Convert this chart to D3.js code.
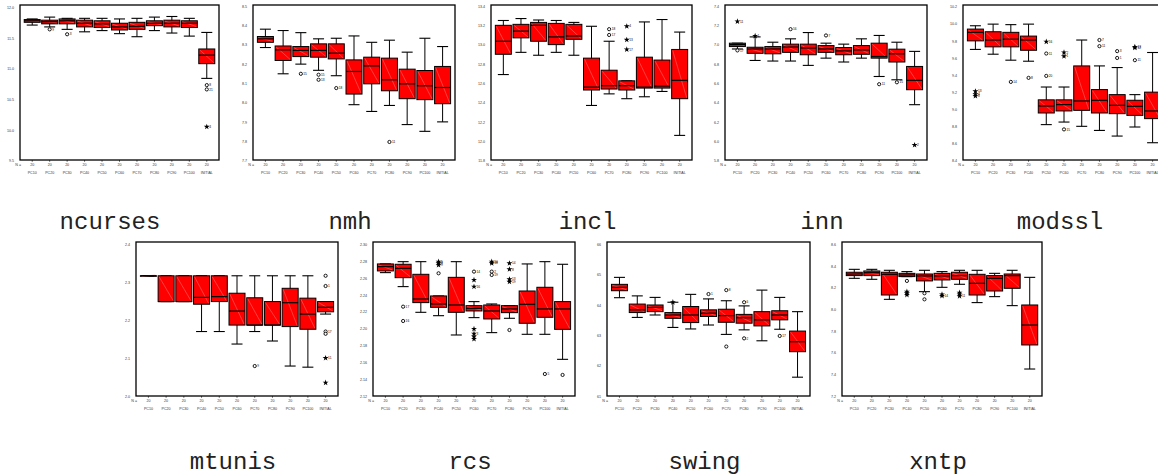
<!DOCTYPE html>
<html>
<head>
<meta charset="utf-8">
<script src="https://cdn.jsdelivr.net/npm/d3@7"></script>
<style>
  body { margin: 0; background: #fff; }
  svg { display: block; }
  .tick text { font-family: "Liberation Sans", Arial, sans-serif; fill: #333; }
</style>
</head>
<body>
<div id="chart"></div>
<script>
// categories and N labels
const categories = ["PC10","PC20","PC30","PC40","PC50","PC60","PC70","PC80","PC90","PC100","INITIAL"];
const nLabels = ["20","20","20","20","20","20","20","20","20","20","20"];

// box stats: [low whisker, q1, median, q3, high whisker]
const ncursesBoxes = [
  [11.71,11.755,11.78,11.80,11.81],[11.68,11.73,11.765,11.79,11.84],[11.64,11.73,11.78,11.81,11.82],
  [11.60,11.68,11.74,11.79,11.82],[11.62,11.67,11.73,11.78,11.82],[11.57,11.63,11.68,11.74,11.81],
  [11.52,11.64,11.69,11.755,11.82],[11.62,11.70,11.74,11.78,11.84],[11.58,11.68,11.74,11.79,11.85],
  [11.53,11.67,11.74,11.78,11.82],[10.84,11.08,11.22,11.32,11.59]];
const ncursesOutliers = [[1,11.64,"o","9"],[2,11.56,"o","3"],[10,10.73,"o","8"],[10,10.66,"o","21"],[10,10.05,"*","4"]];
const ncursesTicks = [9.5,10.0,10.5,11.0,11.5,12.0];

const nmhBoxes = [
  [8.285,8.312,8.33,8.342,8.38],[8.149,8.218,8.273,8.293,8.373],[8.199,8.238,8.27,8.29,8.362],
  [8.167,8.235,8.27,8.304,8.33],[8.139,8.226,8.256,8.304,8.333],[7.989,8.044,8.161,8.221,8.345],
  [7.954,8.097,8.19,8.235,8.312],[7.985,8.061,8.118,8.23,8.323],[7.886,8.02,8.097,8.173,8.261],
  [7.851,8.015,8.087,8.166,8.333],[7.9,7.994,8.078,8.187,8.29]];
const nmhOutliers = [[2,8.149,"o","15"],[3,8.144,"o","15"],[3,8.118,"o","13"],[4,8.075,"o","18"],[7,7.796,"o","11"]];
const nmhTicks = [7.7,7.8,7.9,8.0,8.1,8.2,8.3,8.4,8.5];

const inclBoxes = [
  [12.69,12.9,13.035,13.2,13.25],[12.92,13.07,13.14,13.21,13.27],[12.89,13.035,13.2,13.23,13.255],
  [12.92,13.0,13.08,13.22,13.25],[12.89,13.055,13.09,13.21,13.23],[12.37,12.53,12.56,12.86,13.19],
  [12.49,12.54,12.575,12.735,13.035],[12.44,12.53,12.575,12.625,12.625],[12.46,12.55,12.56,12.87,13.235],
  [12.515,12.55,12.57,12.84,13.26],[12.06,12.44,12.63,12.95,13.13]];
const inclOutliers = [[6,13.16,"o","18"],[6,13.10,"o","17"],[7,13.19,"*","4"],[7,13.05,"*","13"],[7,12.95,"*","17"]];
const inclTicks = [11.8,12.0,12.2,12.4,12.6,12.8,13.0,13.2,13.4];

const innBoxes = [
  [6.955,6.98,7.0,7.015,7.015],[6.836,6.91,6.955,6.973,7.08],[6.83,6.905,6.955,6.98,7.025],
  [6.83,6.92,6.975,7.005,7.06],[6.785,6.895,6.965,7.005,7.125],[6.86,6.92,6.955,6.99,7.015],
  [6.82,6.895,6.935,6.97,7.005],[6.86,6.9,6.945,6.99,7.06],[6.67,6.86,6.877,7.015,7.095],
  [6.636,6.82,6.905,6.953,7.025],[6.378,6.533,6.63,6.774,6.93]];
const innOutliers = [[0,7.24,"*","11"],[0,6.94,"o","17"],[1,7.09,"*","1"],[3,7.16,"o","16"],[5,7.095,"o","7"],
  [8,6.59,"o","11"],[9,6.61,"o","15"],[10,5.96,"*","2"]];
const innTicks = [5.8,6.0,6.2,6.4,6.6,6.8,7.0,7.2,7.4];

const modsslBoxes = [
  [9.7,9.8,9.9,9.938,9.977],[9.644,9.73,9.81,9.907,9.996],[9.574,9.73,9.82,9.9,9.99],
  [9.562,9.69,9.81,9.856,9.996],[8.82,8.956,9.038,9.11,9.26],[8.85,8.98,9.054,9.11,9.26],
  [8.8,8.987,9.097,9.507,9.81],[8.752,8.956,9.104,9.23,9.507],[8.686,8.948,9.046,9.171,9.488],
  [8.792,8.928,9.034,9.105,9.171],[8.608,8.89,8.98,9.2,9.664]];
const modsslOutliers = [[0,9.21,"*","13"],[0,9.175,"*","4"],[0,9.155,"*","8"],[2,9.32,"o","14"],[3,9.367,"o","8"],
  [4,9.79,"*","16"],[4,9.652,"o","11"],[4,9.39,"o","20"],[5,9.664,"*","2"],[5,9.62,"*","1"],[5,8.764,"o","15"],
  [7,9.81,"o","7"],[7,9.738,"o","11"],[8,9.68,"o","3"],[8,9.6,"o","1"],[9,9.73,"*","13"],[9,9.72,"*","12"],[9,9.574,"o","11"]];
const modsslTicks = [8.4,8.6,8.8,9.0,9.2,9.4,9.6,9.8,10.0,10.2];

const mtunisBoxes = [
  [2.317,2.317,2.317,2.317,2.317],[2.249,2.249,2.249,2.317,2.317],[2.249,2.249,2.249,2.317,2.317],
  [2.17,2.242,2.26,2.317,2.317],[2.17,2.249,2.262,2.317,2.317],[2.137,2.187,2.224,2.271,2.317],
  [2.17,2.187,2.187,2.259,2.317],[2.145,2.187,2.187,2.249,2.317],[2.079,2.183,2.246,2.284,2.317],
  [2.076,2.176,2.216,2.258,2.317],[2.216,2.222,2.234,2.249,2.249]];
const mtunisOutliers = [[6,2.079,"o","9"],[10,2.317,"o",""],[10,2.29,"o","1"],[10,2.17,"o","17"],[10,2.164,"o",""],
  [10,2.1,"*","11"],[10,2.035,"*",""]];
const mtunisTicks = [2.0,2.1,2.2,2.3,2.4];

const rcsBoxes = [
  [2.2664,2.2684,2.2735,2.2767,2.2767],[2.2498,2.2604,2.2715,2.2763,2.2794],[2.2193,2.2308,2.2351,2.2644,2.2794],
  [2.2153,2.2252,2.2292,2.2387,2.2387],[2.1924,2.2193,2.228,2.2608,2.2794],[2.213,2.2209,2.224,2.2272,2.232],
  [2.1952,2.2114,2.2209,2.228,2.2292],[2.2122,2.2189,2.2233,2.2272,2.2272],[2.1932,2.2063,2.2288,2.2446,2.2767],
  [2.1932,2.2134,2.2233,2.249,2.2794],[2.1635,2.1991,2.2233,2.232,2.2763]];
const rcsOutliers = [[1,2.226,"o","17"],[1,2.209,"o","16"],[3,2.2794,"*","5"],[3,2.2775,"*","8"],[3,2.2755,"*","9"],
  [3,2.2656,"o",""],[5,2.2676,"o","14"],[5,2.2577,"*",""],[5,2.2498,"*","16"],[5,2.1995,"*",""],[5,2.194,"*","3"],
  [5,2.1905,"*",""],[5,2.1877,"*",""],[6,2.2794,"*","10"],[6,2.2775,"*","18"],[6,2.2676,"o","2"],[6,2.2636,"o","19"],
  [7,2.2775,"*","14"],[7,2.2703,"*","8"],[7,2.2585,"*","13"],[7,2.2555,"*","19"],[7,2.1983,"o",""],
  [9,2.1461,"o","5"],[10,2.145,"o",""]];
const rcsTicks = [2.12,2.14,2.16,2.18,2.20,2.22,2.24,2.26,2.28,2.30];

const swingBoxes = [
  [64.24,64.47,64.58,64.68,64.91],[63.59,63.75,63.84,64.03,64.30],[63.67,63.78,63.92,64.0,64.25],
  [63.26,63.56,63.67,63.75,64.09],[63.21,63.42,63.67,63.95,64.35],[63.34,63.62,63.73,63.84,64.2],
  [63.03,63.43,63.65,63.86,64.14],[63.18,63.40,63.58,63.69,63.97],[62.82,63.31,63.51,63.78,64.49],
  [63.2,63.51,63.67,63.81,64.25],[61.62,62.46,62.79,63.14,63.78]];
const swingOutliers = [[3,64.09,"*",""],[5,64.36,"o","1"],[6,64.49,"o","8"],[6,62.63,"o",""],[7,64.09,"o","6"],
  [7,62.9,"o","2"],[9,62.98,"o","17"]];
const swingTicks = [61,62,63,64,65,66];

const xntpBoxes = [
  [8.286,8.311,8.326,8.342,8.369],[8.277,8.311,8.338,8.354,8.369],[8.092,8.132,8.323,8.342,8.36],
  [8.302,8.302,8.317,8.332,8.348],[8.163,8.262,8.308,8.326,8.36],[8.203,8.271,8.308,8.332,8.348],
  [8.231,8.277,8.311,8.342,8.36],[8.062,8.132,8.24,8.323,8.36],[8.117,8.169,8.286,8.311,8.332],
  [8.034,8.194,8.311,8.326,8.36],[7.449,7.671,7.855,8.04,8.295]];
const xntpOutliers = [[3,8.262,"o",""],[3,8.163,"*",""],[3,8.148,"*",""],[3,8.133,"*",""],[4,8.148,"o",""],
  [4,8.092,"o",""],[5,8.138,"*",""],[5,8.124,"*","14"],[6,8.154,"*",""],[6,8.138,"*",""],[6,8.122,"*","11"]];
const xntpTicks = [7.2,7.4,7.6,7.8,8.0,8.2,8.4,8.6];

// panel layout
const panels = [
  {name:"ncurses", boxes:ncursesBoxes, outliers:ncursesOutliers, ticks:ncursesTicks, fmt:".1f", x0:20,  x1:219,  row:0, tickTop:7.3, titleX:110},
  {name:"nmh",     boxes:nmhBoxes,     outliers:nmhOutliers,     ticks:nmhTicks,     fmt:".1f", x0:253, x1:455,  row:0},
  {name:"incl",    boxes:inclBoxes,    outliers:inclOutliers,    ticks:inclTicks,    fmt:".1f", x0:491, x1:692,  row:0},
  {name:"inn",     boxes:innBoxes,     outliers:innOutliers,     ticks:innTicks,     fmt:".1f", x0:725, x1:927,  row:0},
  {name:"modssl",  boxes:modsslBoxes,  outliers:modsslOutliers,  ticks:modsslTicks,  fmt:".1f", x0:963, x1:1165, row:0, tickTop:6.7},
  {name:"mtunis",  boxes:mtunisBoxes,  outliers:mtunisOutliers,  ticks:mtunisTicks,  fmt:".1f", x0:136, x1:338,  row:1},
  {name:"rcs",     boxes:rcsBoxes,     outliers:rcsOutliers,     ticks:rcsTicks,     fmt:".2f", x0:373, x1:575,  row:1},
  {name:"swing",   boxes:swingBoxes,   outliers:swingOutliers,   ticks:swingTicks,   fmt:"d",   x0:607, x1:810,  row:1},
  {name:"xntp",    boxes:xntpBoxes,    outliers:xntpOutliers,    ticks:xntpTicks,    fmt:".1f", x0:842, x1:1042, row:1}
];
const rows = [
  {frameTop:5,   frameBottom:160, tickTop:6,     tickBottom:160.5, titleY:229},
  {frameTop:242, frameBottom:396, tickTop:244.3, tickBottom:396,   titleY:469}
];

const width = 1158, height = 476;
const svg = d3.select("#chart").append("svg")
  .attr("width", width)
  .attr("height", height);

const star = d3.symbol().type(d3.symbolStar).size(11);
const smallFont = "Liberation Sans, Arial, sans-serif";

panels.forEach(p => {
  const r = rows[p.row];
  const g = svg.append("g").attr("class", "panel");

  const x = d3.scalePoint()
    .domain(categories)
    .range([p.x0, p.x1])
    .padding(0.7);
  const y = d3.scaleLinear()
    .domain(d3.extent(p.ticks))
    .range([r.tickBottom, p.tickTop !== undefined ? p.tickTop : r.tickTop]);

  // frame
  g.append("rect")
    .attr("x", p.x0).attr("y", r.frameTop)
    .attr("width", p.x1 - p.x0).attr("height", r.frameBottom - r.frameTop)
    .attr("fill", "none").attr("stroke", "#000").attr("stroke-width", 1.3);

  // y axis labels
  const yAxis = g.append("g")
    .attr("transform", `translate(${p.x0},0)`)
    .call(d3.axisLeft(y).tickValues(p.ticks).tickSize(0).tickPadding(6).tickFormat(d3.format(p.fmt)));
  yAxis.select(".domain").remove();
  yAxis.selectAll("text").style("font-size", "3.6px");

  // category ticks + N row + names
  g.selectAll(".ctick").data(categories).enter().append("line")
    .attr("x1", d => x(d)).attr("x2", d => x(d))
    .attr("y1", r.frameBottom).attr("y2", r.frameBottom + 1.8)
    .attr("stroke", "#000").attr("stroke-width", 0.6);
  g.append("text")
    .attr("x", p.x0 + 1).attr("y", r.frameBottom + 5.5)
    .attr("text-anchor", "end")
    .style("font-family", smallFont).style("font-size", "3.6px").attr("fill", "#333")
    .text("N =");
  g.selectAll(".nlab").data(categories).enter().append("text")
    .attr("x", d => x(d)).attr("y", r.frameBottom + 5.5)
    .attr("text-anchor", "middle")
    .style("font-family", smallFont).style("font-size", "3.6px").attr("fill", "#333")
    .text((d, i) => nLabels[i]);
  g.selectAll(".clab").data(categories).enter().append("text")
    .attr("x", d => x(d)).attr("y", r.frameBottom + 14)
    .attr("text-anchor", "middle")
    .style("font-family", smallFont).style("font-size", "3.6px").attr("fill", "#333")
    .text(d => d);

  const bw = 16, cw = 11;
  const boxes = g.selectAll(".box").data(p.boxes).enter().append("g").attr("class", "box");

  // whiskers
  boxes.append("line")
    .attr("x1", (d, i) => x(categories[i])).attr("x2", (d, i) => x(categories[i]))
    .attr("y1", d => y(d[4])).attr("y2", d => y(d[0]))
    .attr("stroke", "#000").attr("stroke-width", 1);
  boxes.append("line")
    .attr("x1", (d, i) => x(categories[i]) - cw / 2).attr("x2", (d, i) => x(categories[i]) + cw / 2)
    .attr("y1", d => y(d[4])).attr("y2", d => y(d[4]))
    .attr("stroke", "#000").attr("stroke-width", 1.1);
  boxes.append("line")
    .attr("x1", (d, i) => x(categories[i]) - cw / 2).attr("x2", (d, i) => x(categories[i]) + cw / 2)
    .attr("y1", d => y(d[0])).attr("y2", d => y(d[0]))
    .attr("stroke", "#000").attr("stroke-width", 1.1);

  // box
  boxes.append("rect")
    .attr("x", (d, i) => x(categories[i]) - bw / 2)
    .attr("y", d => y(d[3]))
    .attr("width", bw)
    .attr("height", d => Math.max(0.5, y(d[1]) - y(d[3])))
    .attr("fill", "#ff0000").attr("stroke", "#000").attr("stroke-width", 1);
  // faint diagonal hatch
  boxes.append("line")
    .attr("x1", (d, i) => x(categories[i]) - bw / 2 + 1).attr("y1", d => y(d[3]) + 1)
    .attr("x2", (d, i) => x(categories[i]) + bw / 2 - 1).attr("y2", d => y(d[1]) - 1)
    .attr("stroke", "#ff9a9a").attr("stroke-width", 0.4);
  // median
  boxes.append("line")
    .attr("x1", (d, i) => x(categories[i]) - bw / 2).attr("x2", (d, i) => x(categories[i]) + bw / 2)
    .attr("y1", d => y(d[2])).attr("y2", d => y(d[2]))
    .attr("stroke", "#000").attr("stroke-width", 1.2);

  // outliers and extremes
  const outs = g.selectAll(".out").data(p.outliers).enter().append("g")
    .attr("transform", d => `translate(${x(categories[d[0]])},${y(d[1])})`);
  outs.filter(d => d[2] === "o").append("circle")
    .attr("r", 1.6).attr("fill", "#fff").attr("stroke", "#000").attr("stroke-width", 0.9);
  outs.filter(d => d[2] === "*").append("path")
    .attr("d", star).attr("fill", "#000");
  outs.append("text")
    .attr("x", 2.5).attr("y", 1.2)
    .style("font-family", smallFont).style("font-size", "3.2px").attr("fill", "#000")
    .text(d => d[3]);

  // title
  svg.append("text")
    .attr("x", p.titleX !== undefined ? p.titleX : (p.x0 + p.x1) / 2 - 4)
    .attr("y", r.titleY)
    .attr("text-anchor", "middle")
    .style("font-family", "Liberation Mono, Courier New, monospace")
    .style("font-size", "24px")
    .attr("fill", "#222")
    .text(p.name);
});
</script>
</body>
</html>
